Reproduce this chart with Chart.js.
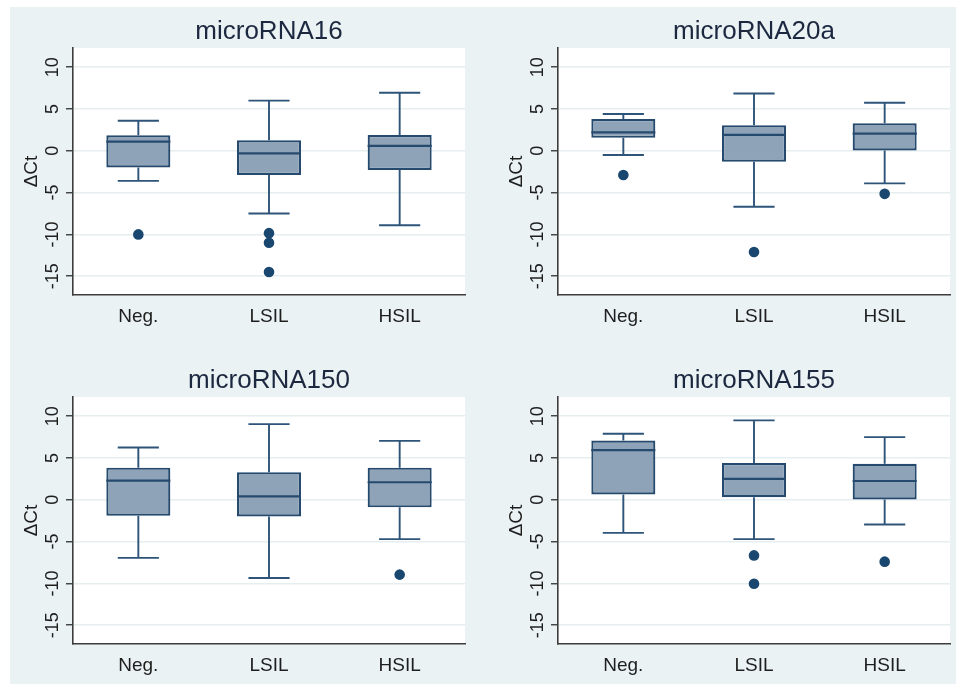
<!DOCTYPE html>
<html>
<head>
<meta charset="utf-8">
<script src="https://cdn.jsdelivr.net/npm/chart.js@4.4.1/dist/chart.umd.min.js"></script>
<style>
  html, body { margin: 0; padding: 0; background: #fff; }
  #page { position: relative; width: 956px; height: 684px; overflow: hidden; }
  #bg { position: absolute; left: 10px; top: 7px; right: 0; bottom: 0; background: #eaf2f3; }
  .panel { position: absolute; }
</style>
</head>
<body>
<div id="page">
  <div id="bg"></div>
  <div class="panel" style="left:0;top:0;width:478px;height:340px"><canvas id="mir16"></canvas></div>
  <div class="panel" style="left:478px;top:0;width:478px;height:340px"><canvas id="mir20a"></canvas></div>
  <div class="panel" style="left:0;top:340px;width:478px;height:344px"><canvas id="mir150"></canvas></div>
  <div class="panel" style="left:478px;top:340px;width:478px;height:344px"><canvas id="mir155"></canvas></div>
</div>
<script>
const categories = ["Neg.", "LSIL", "HSIL"];
const yTicks = [-15, -10, -5, 0, 5, 10];
const yMin = -17.25;
const yMax = 12.3;

// [lower whisker, q1, median, q3, upper whisker] per category
const mir16 = [
  [-3.6, -2.0, 1.1, 1.85, 3.6],
  [-7.5, -2.9, -0.3, 1.25, 6.0],
  [-8.9, -2.3, 0.6, 1.9, 6.95],
];
const mir16Outliers = [[-10], [-9.85, -11, -14.5], []];

const mir20a = [
  [-0.5, 1.55, 2.2, 3.8, 4.4],
  [-6.7, -1.3, 1.9, 3.05, 6.85],
  [-3.9, 0.05, 2.05, 3.3, 5.75],
];
const mir20aOutliers = [[-2.9], [-12.1], [-5.15]];

const mir150 = [
  [-6.95, -1.9, 2.3, 3.85, 6.25],
  [-9.35, -2.0, 0.4, 3.3, 9.05],
  [-4.7, -0.9, 2.1, 3.85, 7.05],
];
const mir150Outliers = [[], [], [-8.95]];

const mir155 = [
  [-3.95, 0.65, 5.95, 7.1, 7.9],
  [-4.7, 0.3, 2.5, 4.4, 9.5],
  [-2.95, 0.05, 2.25, 4.3, 7.5],
];
const mir155Outliers = [[], [-6.65, -10.05], [-7.4]];

const FONT = "'Liberation Sans', Arial, sans-serif";
const navy = "#264a6e";
const boxFill = "#8ea3b8";
const dotColor = "#1a476f";
const axisColor = "#3d3d3d";
const gridColor = "#e6eef0";
const textColor = "#1e1e1e";

// white plot region
const plotBg = {
  id: "plotBg",
  beforeDraw(chart) {
    const { ctx, chartArea: a } = chart;
    ctx.save();
    ctx.fillStyle = "#fff";
    ctx.fillRect(a.left, a.top, a.width, a.height);
    ctx.restore();
  },
};

// whiskers, caps and median lines on top of the floating bars
const boxWhiskers = {
  id: "boxWhiskers",
  afterDatasetsDraw(chart, args, opts) {
    const { ctx, scales: { x, y } } = chart;
    const bars = chart.getDatasetMeta(0).data;
    const step = x.getPixelForValue(1) - x.getPixelForValue(0);
    const capHalf = (step * opts.capPercentage) / 2;
    ctx.save();
    ctx.lineCap = "butt";
    opts.summary.forEach(([lo, q1, med, q3, hi], i) => {
      const cx = x.getPixelForValue(i);
      ctx.strokeStyle = opts.color;
      ctx.lineWidth = opts.lineWidth;
      ctx.beginPath();
      ctx.moveTo(cx, y.getPixelForValue(hi));
      ctx.lineTo(cx, y.getPixelForValue(q3));
      ctx.moveTo(cx, y.getPixelForValue(q1));
      ctx.lineTo(cx, y.getPixelForValue(lo));
      [lo, hi].forEach((v) => {
        const py = y.getPixelForValue(v);
        ctx.moveTo(cx - capHalf, py);
        ctx.lineTo(cx + capHalf, py);
      });
      ctx.stroke();

      const bar = bars[i];
      const my = y.getPixelForValue(med);
      ctx.strokeStyle = navy;
      ctx.lineWidth = opts.medianWidth;
      ctx.beginPath();
      ctx.moveTo(bar.x - bar.width / 2, my);
      ctx.lineTo(bar.x + bar.width / 2, my);
      ctx.stroke();
    });
    ctx.restore();
  },
};

const makePanel = (id, title, summary, outliers, pad, xHeight) => {
  new Chart(document.getElementById(id), {
    type: "bar",
    data: {
      labels: categories,
      datasets: [
        {
          data: summary.map((s) => [s[1], s[3]]),
          backgroundColor: boxFill,
          borderColor: navy,
          borderWidth: 2.2,
          borderSkipped: false,
          barPercentage: 0.49,
          categoryPercentage: 1,
          grouped: false,
        },
        {
          type: "scatter",
          data: outliers.flatMap((vals, i) =>
            vals.map((v) => ({ x: categories[i], y: v }))
          ),
          pointRadius: 5.3,
          pointBackgroundColor: dotColor,
          pointBorderWidth: 0,
        },
      ],
    },
    options: {
      responsive: true,
      maintainAspectRatio: false,
      animation: false,
      layout: { padding: pad },
      plugins: {
        legend: { display: false },
        tooltip: { enabled: false },
        title: {
          display: true,
          text: title,
          fullSize: false,
          color: "#1c2840",
          font: { family: FONT, size: 26, weight: "normal", lineHeight: 1.2 },
          padding: { top: 16, bottom: 0.8 },
        },
        boxWhiskers: {
          summary: summary,
          color: "#2e5479",
          lineWidth: 1.9,
          medianWidth: 2.2,
          capPercentage: 0.315,
        },
      },
      scales: {
        x: {
          grid: { display: false, drawTicks: false },
          border: { display: true, color: axisColor, width: 1.6 },
          ticks: {
            color: textColor,
            font: { family: FONT, size: 19 },
            padding: 10,
          },
          afterFit: (s) => {
            s.height = xHeight;
          },
        },
        y: {
          min: yMin,
          max: yMax,
          afterBuildTicks: (s) => {
            s.ticks = yTicks.map((v) => ({ value: v }));
          },
          afterFit: (s) => {
            s.width = 63;
          },
          grid: {
            color: gridColor,
            lineWidth: 1.5,
            tickLength: 7,
            tickColor: axisColor,
            tickWidth: 1.4,
          },
          border: { display: true, color: axisColor, width: 1.6 },
          ticks: {
            minRotation: 90,
            maxRotation: 90,
            crossAlign: "center",
            autoSkip: false,
            padding: 0,
            color: textColor,
            font: { family: FONT, size: 18 },
          },
          title: {
            display: true,
            text: "ΔCt",
            color: textColor,
            font: { family: FONT, size: 19 },
            padding: { top: 10, bottom: 0 },
          },
        },
      },
    },
    plugins: [plotBg, boxWhiskers],
  });
};

makePanel("mir16", "microRNA16", mir16, mir16Outliers, { left: 10, right: 13, top: 0, bottom: 0 }, 45);
makePanel("mir20a", "microRNA20a", mir20a, mir20aOutliers, { left: 17, right: 6, top: 0, bottom: 0 }, 45);
makePanel("mir150", "microRNA150", mir150, mir150Outliers, { left: 10, right: 13, top: 9, bottom: 0 }, 40);
makePanel("mir155", "microRNA155", mir155, mir155Outliers, { left: 17, right: 6, top: 9, bottom: 0 }, 40);
</script>
</body>
</html>
